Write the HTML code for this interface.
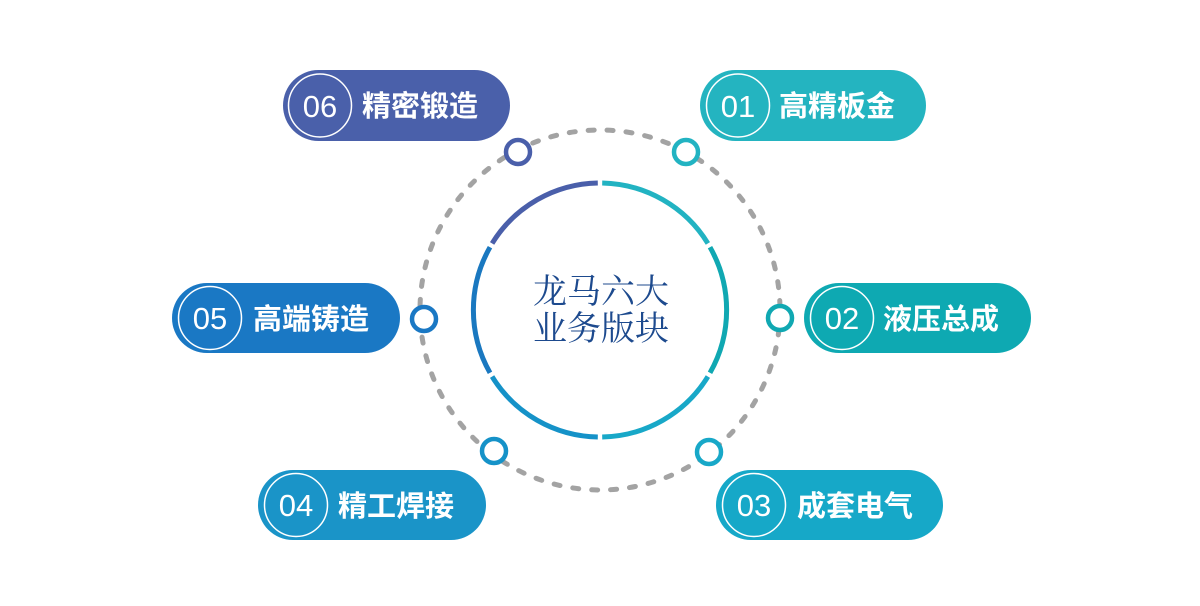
<!DOCTYPE html>
<html><head><meta charset="utf-8"><style>
html,body{margin:0;padding:0;background:#fff;}
svg{display:block;}
.n{font-family:"Liberation Sans",sans-serif;font-size:31px;fill:#fff;}
.l{font-family:"Liberation Sans","Noto Sans CJK SC",sans-serif;font-size:29px;fill:#fff;font-weight:bold;}
.c{font-family:"Liberation Serif","Noto Serif CJK SC",serif;font-size:34px;fill:#1d4a8e;}
</style></head><body>
<svg width="1200" height="606" viewBox="0 0 1200 606" xmlns="http://www.w3.org/2000/svg">
<circle cx="600" cy="310" r="180" fill="none" stroke="#a3a3a3" stroke-width="5" stroke-linecap="round" stroke-dasharray="6 13"/>
<g fill="none" stroke-width="5">
<path d="M597.8 183 A127 127 0 0 0 492.1 243.4" stroke="#4a5faa"/>
<path d="M602.2 183 A127 127 0 0 1 707.9 243.4" stroke="#22b3c2"/>
<path d="M710 247.2 A127 127 0 0 1 710 372.8" stroke="#10a8b2"/>
<path d="M707.9 376.6 A127 127 0 0 1 602.2 437" stroke="#18a8c8"/>
<path d="M597.8 437 A127 127 0 0 1 492.1 376.6" stroke="#1592c8"/>
<path d="M490 372.8 A127 127 0 0 1 490 247.2" stroke="#1a78c0"/>
</g>
<g fill="#fff" stroke-width="4.5">
<circle cx="518" cy="152" r="12" stroke="#4a5faa"/>
<circle cx="686" cy="152" r="12" stroke="#22b3c2"/>
<circle cx="424" cy="319" r="12" stroke="#1a78c4"/>
<circle cx="780" cy="318" r="12" stroke="#10a8b2"/>
<circle cx="494" cy="451" r="12" stroke="#1592c8"/>
<circle cx="709" cy="452" r="12" stroke="#18a8c8"/>
</g>
<text class="c" x="601" y="303" text-anchor="middle">龙马六大</text>
<text class="c" x="601" y="340" text-anchor="middle">业务版块</text>

<g>
<rect x="283" y="70" width="227" height="71" rx="35.5" fill="#4a60aa"/>
<circle cx="320" cy="105.5" r="31.5" fill="none" stroke="#fff" stroke-width="1.5"/>
<text class="n" x="320" y="117" text-anchor="middle">06</text>
<text class="l" x="362" y="116">精密锻造</text>
</g>
<g>
<rect x="700" y="70" width="226" height="71" rx="35.5" fill="#24b4c0"/>
<circle cx="738" cy="105.5" r="31.5" fill="none" stroke="#fff" stroke-width="1.5"/>
<text class="n" x="738" y="117" text-anchor="middle">01</text>
<text class="l" x="779" y="116">高精板金</text>
</g>
<g>
<rect x="172" y="283" width="228" height="70" rx="35" fill="#1a78c4"/>
<circle cx="210" cy="318" r="31.5" fill="none" stroke="#fff" stroke-width="1.5"/>
<text class="n" x="210" y="329" text-anchor="middle">05</text>
<text class="l" x="253" y="329">高端铸造</text>
</g>
<g>
<rect x="804" y="283" width="227" height="70" rx="35" fill="#0ea9b2"/>
<circle cx="842" cy="318" r="31.5" fill="none" stroke="#fff" stroke-width="1.5"/>
<text class="n" x="842" y="329" text-anchor="middle">02</text>
<text class="l" x="883" y="329">液压总成</text>
</g>
<g>
<rect x="258" y="470" width="228" height="70" rx="35" fill="#1a94c8"/>
<circle cx="296" cy="505" r="31.5" fill="none" stroke="#fff" stroke-width="1.5"/>
<text class="n" x="296" y="516" text-anchor="middle">04</text>
<text class="l" x="338" y="516">精工焊接</text>
</g>
<g>
<rect x="716" y="470" width="227" height="70" rx="35" fill="#16a8c8"/>
<circle cx="754" cy="505" r="31.5" fill="none" stroke="#fff" stroke-width="1.5"/>
<text class="n" x="754" y="516" text-anchor="middle">03</text>
<text class="l" x="797" y="516">成套电气</text>
</g>
</svg>
</body></html>
